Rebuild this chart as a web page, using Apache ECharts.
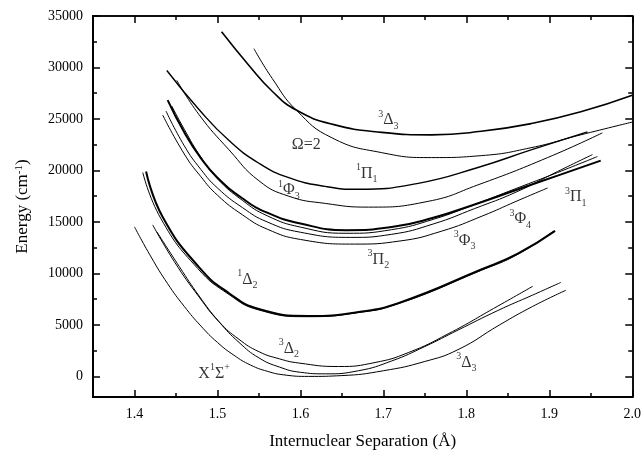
<!DOCTYPE html>
<html>
<head>
<meta charset="utf-8">
<script src="https://cdn.jsdelivr.net/npm/echarts@6/dist/echarts.min.js"></script>
<style>
  html, body { margin: 0; padding: 0; background: #fff; }
  #chart { width: 644px; height: 455px; }
</style>
</head>
<body>
<div id="chart"></div>
<script>
// ticks and labels
const xTickLabels = [1.4, 1.5, 1.6, 1.7, 1.8, 1.9, 2.0];
const xMinorTicks = [1.45, 1.55, 1.65, 1.75, 1.85, 1.95];
const yTickLabels = [0, 5000, 10000, 15000, 20000, 25000, 30000, 35000];
const yMinorTicks = [-2500, 2500, 7500, 12500, 17500, 22500, 27500, 32500];

// potential curves, [separation, energy]
const delta3Upper = [[1.505,33460],[1.538,30190],[1.566,27690],[1.595,25865],[1.638,24500],[1.698,23700],[1.758,23460],[1.818,23800],[1.878,24550],[1.938,25700],[2.0,27310]];
const omega2 = [[1.544,31830],[1.566,28940],[1.595,25865],[1.638,23170],[1.698,21730],[1.758,21250],[1.818,21440],[1.878,22210],[1.938,23460],[2.0,24700]];
const pi1Singlet = [[1.439,29710],[1.478,25900],[1.514,22900],[1.550,20700],[1.586,19300],[1.630,18450],[1.670,18170],[1.742,18750],[1.814,20290],[1.878,22000],[1.946,23750]];
const phi3Singlet = [[1.451,28750],[1.478,25400],[1.514,22000],[1.550,19000],[1.586,17500],[1.630,16800],[1.682,16440],[1.754,17000],[1.814,18600],[1.898,21250],[1.964,23650]];
const pi1Triplet = [[1.440,26830],[1.460,23700],[1.480,21200],[1.500,19300],[1.530,17300],[1.560,15900],[1.600,14850],[1.655,14200],[1.710,14500],[1.760,15400],[1.810,16700],[1.860,18100],[1.910,19500],[1.962,20960]];
const phi4Triplet = [[1.445,26250],[1.460,24000],[1.480,21300],[1.500,19200],[1.530,17100],[1.560,15600],[1.600,14500],[1.655,13900],[1.710,14250],[1.760,15250],[1.810,16700],[1.860,18250],[1.910,19800],[1.958,21350]];
const phi3Triplet = [[1.438,25770],[1.460,22400],[1.480,20100],[1.500,18300],[1.530,16400],[1.560,15000],[1.600,14000],[1.660,13500],[1.710,13800],[1.760,14800],[1.810,16300],[1.860,17900],[1.910,19900],[1.952,21540]];
const pi2Triplet = [[1.434,25380],[1.460,21600],[1.480,19400],[1.500,17600],[1.530,15700],[1.560,14300],[1.600,13300],[1.665,12850],[1.720,13150],[1.770,14100],[1.820,15600],[1.860,17000],[1.898,18300]];
const delta2SingletA = [[1.414,19900],[1.434,15480],[1.478,10580],[1.514,8080],[1.550,6540],[1.610,5865],[1.670,6250],[1.718,7115],[1.818,10380],[1.862,11920],[1.907,14130]];
const delta2SingletB = [[1.410,19800],[1.432,15300],[1.476,10500],[1.514,7950],[1.550,6450],[1.610,5800],[1.670,6200],[1.718,7050],[1.818,10300],[1.862,11850],[1.905,14100]];
const delta2Triplet = [[1.422,14710],[1.448,11150],[1.478,7700],[1.502,5300],[1.526,3600],[1.550,2400],[1.575,1700],[1.598,1300],[1.646,960],[1.690,1350],[1.730,2310],[1.778,4130],[1.838,6830],[1.880,8750]];
const delta3Lower = [[1.427,14040],[1.454,10670],[1.478,7800],[1.502,5300],[1.526,3300],[1.550,1800],[1.575,900],[1.600,400],[1.630,250],[1.670,550],[1.710,1500],[1.750,2900],[1.790,4500],[1.838,6400],[1.880,7900],[1.914,9130]];
const groundState = [[1.400,14520],[1.420,11600],[1.440,9000],[1.460,6800],[1.480,4900],[1.500,3300],[1.520,2050],[1.540,1100],[1.560,500],[1.580,150],[1.610,0],[1.650,80],[1.700,550],[1.750,1450],[1.790,2600],[1.840,5000],[1.880,6800],[1.920,8365]];

// state labels
const stateLabels = [
  [1.706, 24900, '{sup|3}Δ{sub|3}'],
  [1.607, 22500, 'Ω=2'],
  [1.680, 19710, '{sup|1}Π{sub|1}'],
  [1.586, 18080, '{sup|1}Φ{sub|3}'],
  [1.932, 17400, '{sup|3}Π{sub|1}'],
  [1.865, 15290, '{sup|3}Φ{sub|4}'],
  [1.798, 13170, '{sup|3}Φ{sub|3}'],
  [1.694, 11350, '{sup|3}Π{sub|2}'],
  [1.536, 9420, '{sup|1}Δ{sub|2}'],
  [1.586, 2690, '{sup|3}Δ{sub|2}'],
  [1.800, 1350, '{sup|3}Δ{sub|3}'],
  [1.496, 290, 'X{sup|1}Σ{sup|+}']
];

const font = 'Liberation Serif';
const richText = {
  sup: { fontSize: 10, fontFamily: font, color: '#000', verticalAlign: 'top', lineHeight: 10 },
  sub: { fontSize: 10, fontFamily: font, color: '#000', verticalAlign: 'bottom', lineHeight: 10 }
};

const curves = [
  [delta3Upper, 1.6], [omega2, 1], [pi1Singlet, 1.4], [phi3Singlet, 1],
  [pi1Triplet, 2], [phi4Triplet, 1], [phi3Triplet, 1], [pi2Triplet, 1],
  [delta2SingletA, 2], [delta2SingletB, 1],
  [delta2Triplet, 1], [delta3Lower, 1], [groundState, 1]
];

function xAxisOf(pos, ticks, len, labels) {
  return {
    type: 'value', position: pos, min: 1.35, max: 2.0,
    axisLine: { show: true, onZero: false, lineStyle: { color: '#000', width: pos === 'bottom' ? 2 : 1.5 } },
    axisTick: { show: true, inside: true, length: len, customValues: ticks, lineStyle: { color: '#000', width: 1.5 } },
    axisLabel: labels ? { show: true, customValues: labels, formatter: v => v.toFixed(1), color: '#000', fontFamily: font, fontSize: 14, margin: 10 } : { show: false },
    splitLine: { show: false }
  };
}
function yAxisOf(pos, ticks, len, labels) {
  return {
    type: 'value', position: pos, min: -2000, max: 35000,
    axisLine: { show: true, onZero: false, lineStyle: { color: '#000', width: pos === 'left' ? 2 : 1.5 } },
    axisTick: { show: true, inside: true, length: len, customValues: ticks, lineStyle: { color: '#000', width: 1.5 } },
    axisLabel: labels ? { show: true, customValues: labels, formatter: v => String(v), color: '#000', fontFamily: font, fontSize: 14, margin: 10 } : { show: false },
    splitLine: { show: false }
  };
}

const xMain = xAxisOf('bottom', xTickLabels, 7, xTickLabels);
xMain.name = 'Internuclear Separation (Å)';
xMain.nameLocation = 'middle';
xMain.nameGap = 36;
xMain.nameTextStyle = { color: '#000', fontFamily: font, fontSize: 17 };

const yMain = yAxisOf('left', yTickLabels, 7, yTickLabels);
yMain.name = 'Energy (cm{sup|-1})';
yMain.nameLocation = 'middle';
yMain.nameGap = 62;
yMain.nameTextStyle = { color: '#000', fontFamily: font, fontSize: 17, rich: { sup: { fontSize: 11, fontFamily: font, color: '#000', verticalAlign: 'top', lineHeight: 11 } } };

const series = curves.map(c => ({
  type: 'line', data: c[0], xAxisIndex: 0, yAxisIndex: 0,
  showSymbol: false, smooth: 0.5, silent: true,
  lineStyle: { color: '#000', width: c[1] }
}));
series.push({
  type: 'scatter', xAxisIndex: 0, yAxisIndex: 0, symbolSize: 0, silent: true,
  data: stateLabels.map(s => ({ value: [s[0], s[1]], label: { formatter: s[2] } })),
  label: { show: true, position: 'inside', color: '#000', fontFamily: font, fontSize: 16, lineHeight: 22, rich: richText }
});

const chart = echarts.init(document.getElementById('chart'));
chart.setOption({
  animation: false,
  backgroundColor: '#fff',
  grid: { left: 93, right: 11, top: 16, bottom: 53 },
  xAxis: [
    xMain,
    xAxisOf('bottom', xMinorTicks, 4, null),
    xAxisOf('top', xTickLabels, 7, null),
    xAxisOf('top', xMinorTicks, 4, null)
  ],
  yAxis: [
    yMain,
    yAxisOf('left', yMinorTicks, 4, null),
    yAxisOf('right', yTickLabels, 7, null),
    yAxisOf('right', yMinorTicks, 4, null)
  ],
  series: series
});
</script>
</body>
</html>
